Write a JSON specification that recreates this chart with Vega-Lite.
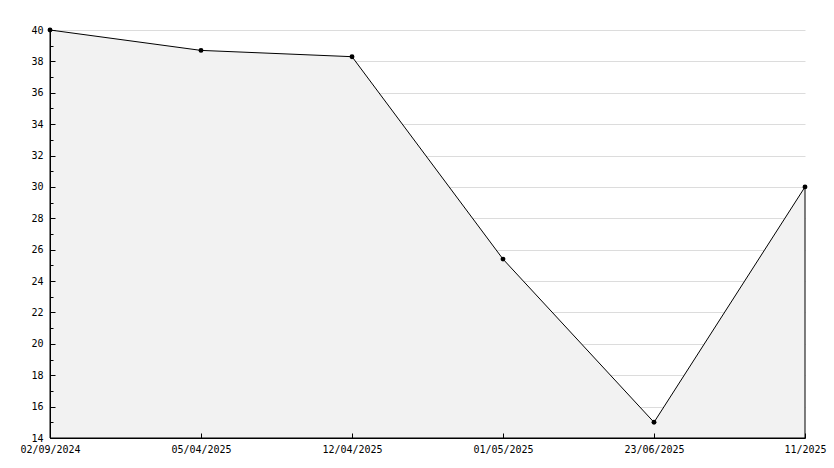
{
  "$schema": "https://vega.github.io/schema/vega-lite/v6.json",
  "width": 755,
  "height": 408,
  "autosize": {"type": "none"},
  "padding": {"left": 50, "top": 30, "right": 29, "bottom": 30},
  "background": "white",
  "config": {
    "view": {"stroke": null},
    "axis": {"labelFont": "DejaVu Sans Mono", "labelFontSize": 10, "labelColor": "black", "domainColor": "black", "tickColor": "black"}
  },
  "data": {
    "values": [
      {"date": "02/09/2024", "value": 40},
      {"date": "05/04/2025", "value": 38.7},
      {"date": "12/04/2025", "value": 38.3},
      {"date": "01/05/2025", "value": 25.4},
      {"date": "23/06/2025", "value": 15},
      {"date": "11/2025", "value": 30}
    ]
  },
  "resolve": {"axis": {"y": "independent", "x": "independent"}},
  "layer": [
    {
      "mark": {"type": "area", "color": "#f2f2f2", "stroke": "black", "strokeWidth": 1},
      "encoding": {
        "x": {
          "field": "date", "type": "ordinal", "sort": null,
          "scale": {"type": "point", "padding": 0},
          "axis": null
        },
        "y": {
          "field": "value", "type": "quantitative",
          "scale": {"domain": [14, 40], "zero": false, "nice": false},
          "axis": {
            "title": null, "orient": "left", "zindex": 0,
            "values": [16,18,20,22,24,26,28,30,32,34,36,38,40],
            "grid": true, "gridColor": "#dcdcdc",
            "domain": false, "ticks": false, "labels": false
          }
        },
        "y2": {"datum": 14}
      }
    },
    {
      "mark": {"type": "point", "shape": "circle", "filled": true, "color": "black", "size": 24, "opacity": 1},
      "encoding": {
        "x": {
          "field": "date", "type": "ordinal", "sort": null,
          "scale": {"type": "point", "padding": 0},
          "axis": {"title": null, "orient": "bottom", "zindex": 1, "labelAngle": 0, "tickSize": -5, "labelPadding": 11, "grid": false}
        },
        "y": {
          "field": "value", "type": "quantitative",
          "scale": {"domain": [14, 40], "zero": false, "nice": false},
          "axis": {
            "title": null, "orient": "left", "zindex": 1, "grid": false,
            "values": [14,15,16,17,18,19,20,21,22,23,24,25,26,27,28,29,30,31,32,33,34,35,36,37,38,39,40],
            "labelExpr": "datum.value % 2 === 0 ? datum.label : ''",
            "tickSize": {"condition": {"test": "datum.value % 2 === 0", "value": -5}, "value": -3},
            "labelPadding": 12,
            "labelBaseline": "middle"
          }
        }
      }
    }
  ]
}
